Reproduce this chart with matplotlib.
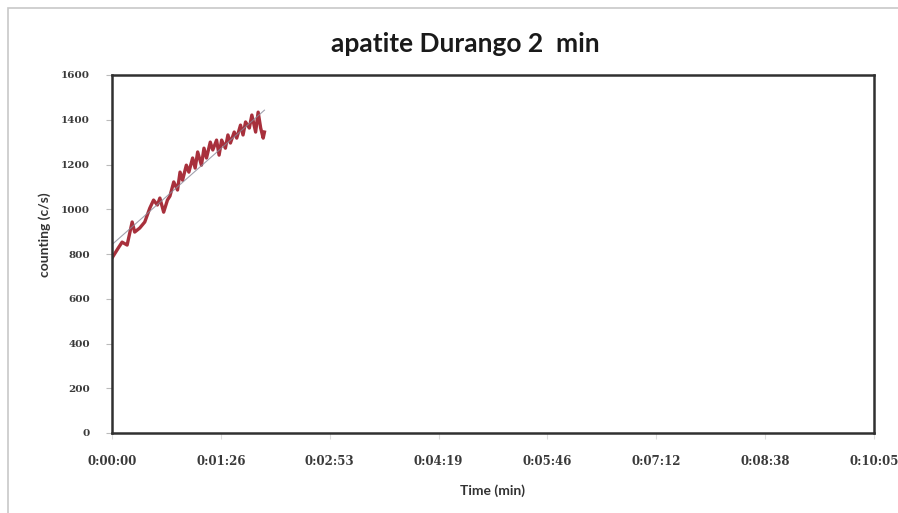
import matplotlib
matplotlib.use("Agg")
import matplotlib.pyplot as plt
from matplotlib.patches import Rectangle
from matplotlib.ticker import FixedLocator
import numpy as np

# counting rate vs time, 2 min acquisition
time_s = [0, 5, 8, 12, 16, 18, 22, 26, 30, 33, 36, 38, 41, 44, 46, 49, 52,
          54, 56, 59, 61, 64, 66, 68, 71, 73, 75, 78, 80, 83, 85, 87, 90, 92,
          94, 97, 99, 102, 104, 106, 109, 111, 114, 116, 118, 120, 121]
counts = [782, 827, 853, 840, 943, 898, 916, 943, 1005, 1041, 1019, 1050,
          987, 1041, 1059, 1122, 1086, 1166, 1130, 1197, 1166, 1229, 1184,
          1256, 1197, 1273, 1229, 1300, 1265, 1309, 1242, 1309, 1273, 1332,
          1296, 1345, 1318, 1376, 1332, 1390, 1363, 1421, 1345, 1434, 1363,
          1318, 1345]

# excel style time axis: ticks every 0.001 day
tick_days = [0.000, 0.001, 0.002, 0.003, 0.004, 0.005, 0.006, 0.007]
tick_labels = ["0:00:00", "0:01:26", "0:02:53", "0:04:19", "0:05:46",
               "0:07:12", "0:08:38", "0:10:05"]
y_ticks = [0, 200, 400, 600, 800, 1000, 1200, 1400, 1600]

t = np.array(time_s, dtype=float)
c = np.array(counts, dtype=float)
xticks = np.array(tick_days) * 86400

fig = plt.figure(figsize=(8.98, 5.13), dpi=100)
fig.patch.set_facecolor("white")

# chart frame
fig.patches.append(Rectangle((8 / 898, -0.1), 1.2, 1 - 8 / 513 + 0.1,
                             transform=fig.transFigure, fill=False,
                             edgecolor="#c8c8c8", linewidth=1.2))

ax = fig.add_axes([112 / 898, 1 - 433 / 513, (874 - 112) / 898, (433 - 75) / 513])
ax.plot(t, c, color="#a8303c", linewidth=2.4, solid_joinstyle="round")

# linear trend line
k, b = np.polyfit(t, c, 1)
tt = np.array([0, t[-1]])
ax.plot(tt, k * tt + b, color="#8a8a9a", linewidth=0.8, alpha=0.8)

ax.set_xlim(xticks[0], xticks[-1])
ax.set_ylim(0, 1600)
ax.xaxis.set_major_locator(FixedLocator(xticks))
ax.set_xticklabels(tick_labels)
ax.set_yticks(y_ticks)

for s in ax.spines.values():
    s.set_color("#303030")
    s.set_linewidth(1.8)

ax.tick_params(axis="y", direction="out", length=4, width=0.8, color="#bbbbbb",
               pad=12, labelsize=7.5, labelcolor="#3a3a3a")
ax.tick_params(axis="x", direction="out", length=4, width=0.8, color="#dddddd",
               pad=12, labelsize=8.5, labelcolor="#3a3a3a")
for lab in ax.get_yticklabels() + ax.get_xticklabels():
    lab.set_family("DejaVu Serif")
    lab.set_fontweight("semibold")

fig.text(45 / 898, 1 - 235 / 513, "counting (c/s)", family="Lato",
         fontweight="bold", fontsize=10, color="#333333", rotation=90,
         ha="center", va="center")
fig.text(493 / 898, 1 - 491 / 513, "Time (min)", family="Lato", fontweight="bold",
         fontsize=10, color="#333333", ha="center", va="center")

fig.text(465 / 898, 1 - 44 / 513, "apatite Durango 2  min", family="Lato",
         fontweight="bold", fontsize=19, color="#1a1a1a", ha="center", va="center")

fig.savefig("out.png", dpi=100)
